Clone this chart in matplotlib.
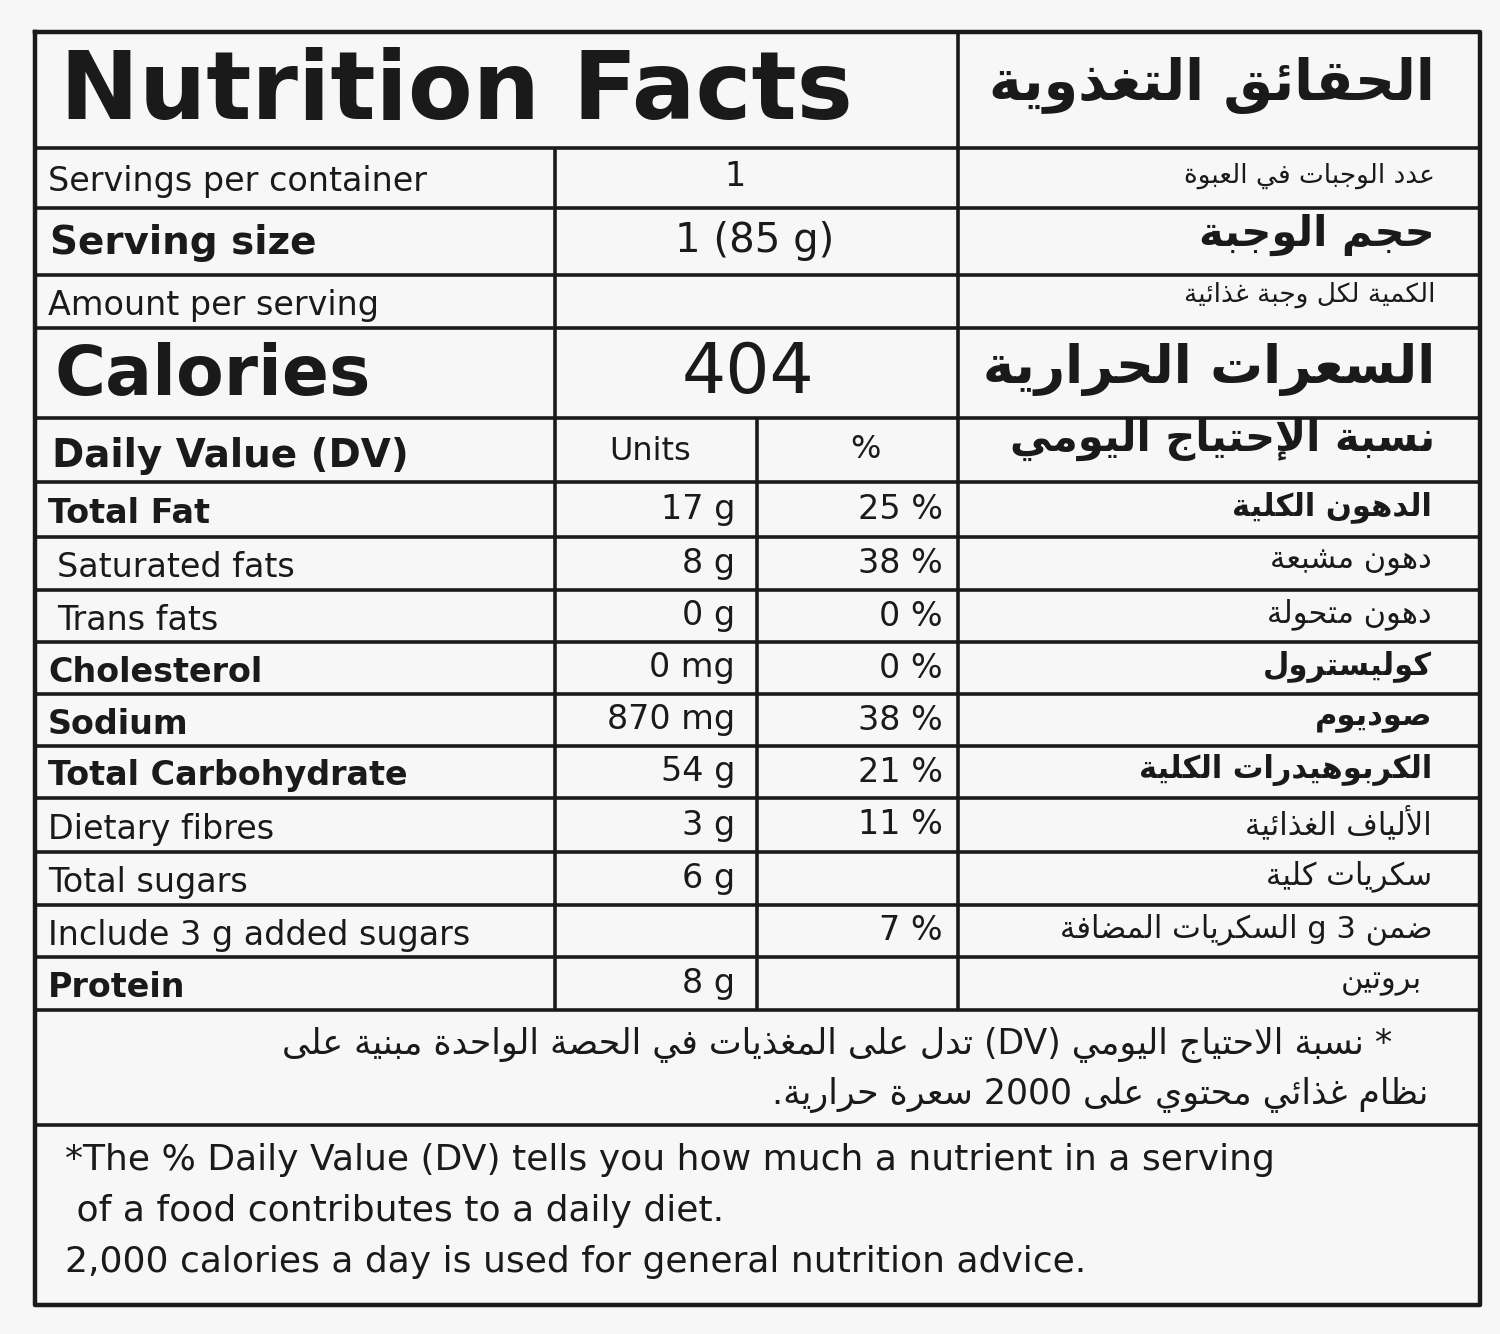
import matplotlib
matplotlib.use("Agg")
import matplotlib.pyplot as plt
import re

# ---------------- data ----------------
title_en = "Nutrition Facts"
title_ar = "الحقائق التغذوية"
servings_per_container = "1"
serving_size = "1 (85 g)"
calories = "404"
nutrients = ["Total Fat", "Saturated fats", "Trans fats", "Cholesterol", "Sodium",
             "Total Carbohydrate", "Dietary fibres", "Total sugars",
             "Include 3 g added sugars", "Protein"]
nutrient_bold = [True, False, False, True, True, True, False, False, False, True]
nutrient_indent = [False, True, True, False, False, False, False, False, False, False]
units = ["17 g", "8 g", "0 g", "0 mg", "870 mg", "54 g", "3 g", "6 g", "", "8 g"]
percents = ["25 %", "38 %", "0 %", "0 %", "38 %", "21 %", "11 %", "", "7 %", ""]
nutrients_ar = ["الدهون الكلية", "دهون مشبعة", "دهون متحولة", "كوليسترول", "صوديوم",
                "الكربوهيدرات الكلية", "الألياف الغذائية", "سكريات كلية",
                "ضمن 3 g السكريات المضافة", "بروتين"]
header_ar = ["عدد الوجبات في العبوة", "حجم الوجبة", "الكمية لكل وجبة غذائية",
             "السعرات الحرارية", "نسبة الإحتياج اليومي"]
foot_ar = ["* نسبة الاحتياج اليومي (DV) تدل على المغذيات في الحصة الواحدة مبنية على",
           "نظام غذائي محتوي على 2000 سعرة حرارية."]
foot_en = ["*The % Daily Value (DV) tells you how much a nutrient in a serving",
           " of a food contributes to a daily diet.",
           "2,000 calories a day is used for general nutrition advice."]

# ---------------- minimal Arabic shaping ----------------
F = {  # iso, fin, ini, med
 'ء':(0xFE80,None,None,None),'آ':(0xFE81,0xFE82,None,None),'أ':(0xFE83,0xFE84,None,None),
 'ؤ':(0xFE85,0xFE86,None,None),'إ':(0xFE87,0xFE88,None,None),'ئ':(0xFE89,0xFE8A,0xFE8B,0xFE8C),
 'ا':(0xFE8D,0xFE8E,None,None),'ب':(0xFE8F,0xFE90,0xFE91,0xFE92),'ة':(0xFE93,0xFE94,None,None),
 'ت':(0xFE95,0xFE96,0xFE97,0xFE98),'ث':(0xFE99,0xFE9A,0xFE9B,0xFE9C),'ج':(0xFE9D,0xFE9E,0xFE9F,0xFEA0),
 'ح':(0xFEA1,0xFEA2,0xFEA3,0xFEA4),'خ':(0xFEA5,0xFEA6,0xFEA7,0xFEA8),'د':(0xFEA9,0xFEAA,None,None),
 'ذ':(0xFEAB,0xFEAC,None,None),'ر':(0xFEAD,0xFEAE,None,None),'ز':(0xFEAF,0xFEB0,None,None),
 'س':(0xFEB1,0xFEB2,0xFEB3,0xFEB4),'ش':(0xFEB5,0xFEB6,0xFEB7,0xFEB8),'ص':(0xFEB9,0xFEBA,0xFEBB,0xFEBC),
 'ض':(0xFEBD,0xFEBE,0xFEBF,0xFEC0),'ط':(0xFEC1,0xFEC2,0xFEC3,0xFEC4),'ظ':(0xFEC5,0xFEC6,0xFEC7,0xFEC8),
 'ع':(0xFEC9,0xFECA,0xFECB,0xFECC),'غ':(0xFECD,0xFECE,0xFECF,0xFED0),'ف':(0xFED1,0xFED2,0xFED3,0xFED4),
 'ق':(0xFED5,0xFED6,0xFED7,0xFED8),'ك':(0xFED9,0xFEDA,0xFEDB,0xFEDC),'ل':(0xFEDD,0xFEDE,0xFEDF,0xFEE0),
 'م':(0xFEE1,0xFEE2,0xFEE3,0xFEE4),'ن':(0xFEE5,0xFEE6,0xFEE7,0xFEE8),'ه':(0xFEE9,0xFEEA,0xFEEB,0xFEEC),
 'و':(0xFEED,0xFEEE,None,None),'ى':(0xFEEF,0xFEF0,None,None),'ي':(0xFEF1,0xFEF2,0xFEF3,0xFEF4),
}
LA = {'ا':(0xFEFB,0xFEFC),'أ':(0xFEF7,0xFEF8),'إ':(0xFEF9,0xFEFA),'آ':(0xFEF5,0xFEF6)}

def dual(c):
    return c in F and F[c][2] is not None

def joins(c):
    return c in F and F[c][1] is not None

def shape(s):
    out = []
    i = 0
    n = len(s)
    while i < n:
        c = s[i]
        if c not in F:
            out.append(c); i += 1; continue
        prev = s[i-1] if i > 0 else ''
        cp = dual(prev)
        if c == 'ل' and i+1 < n and s[i+1] in LA:
            iso, fin = LA[s[i+1]]
            out.append(chr(fin if cp else iso)); i += 2; continue
        nxt = s[i+1] if i+1 < n else ''
        cn = dual(c) and joins(nxt)
        f = F[c]
        if cp and cn: code = f[3]
        elif cp: code = f[1] or f[0]
        elif cn: code = f[2]
        else: code = f[0]
        out.append(chr(code)); i += 1
    return ''.join(out)

def ar(s):
    v = shape(s)[::-1]
    v = re.sub(r'[A-Za-z0-9,.]*[A-Za-z0-9]', lambda m: m.group(0)[::-1], v)
    v = v.translate(str.maketrans('()', ')('))
    return v

# ---------------- figure ----------------
fig = plt.figure(figsize=(15, 13.34), dpi=100)
ax = fig.add_axes([0, 0, 1, 1])
ax.set_xlim(0, 1500)
ax.set_ylim(1334, 0)
ax.axis('off')
fig.patch.set_facecolor('#f7f7f7')

K = '#1a1a1a'
LW = 2.6
L, R, T, B = 35, 1480, 32, 1305
X1, X2, X3 = 555, 757, 958

def h(y, x0=L, x1=R, lw=LW):
    ax.plot([x0, x1], [y, y], color=K, lw=lw, solid_capstyle='butt')

def v(x, y0, y1, lw=LW):
    ax.plot([x, x], [y0, y1], color=K, lw=lw, solid_capstyle='butt')

ax.plot([L, R, R, L, L], [T, T, B, B, T], color=K, lw=3.2)
row_lines = [148, 208, 275, 328, 418, 482, 537, 590, 642, 694, 746, 798, 852, 905, 957, 1010]
for y in row_lines:
    h(y)
h(1125)
v(X3, T, 1010)
v(X1, 148, 1010)
v(X2, 418, 1010)

def t(x, y, s, size, ha='left', bold=False):
    ax.text(x, y, s, fontsize=size, ha=ha, va='center', color=K,
            fontweight='bold' if bold else 'normal', family=['DejaVu Sans'])

t(60, 93, title_en, 68, bold=True)
t(1435, 86, ar(title_ar), 40, ha='right', bold=True)

t(48, 181, "Servings per container", 24)
t(735, 176, servings_per_container, 24, ha='center')
t(50, 243, "Serving size", 28, bold=True)
t(755, 241, serving_size, 29, ha='center')
t(48, 305, "Amount per serving", 24)
t(55, 376, "Calories", 50, bold=True)
t(748, 374, calories, 50, ha='center')
t(52, 456, "Daily Value (DV)", 28, bold=True)
t(650, 451, "Units", 23, ha='center')
t(865, 449, "%", 23, ha='center')

hy = [176, 235, 295, 370, 440]
hs = [19, 30, 19, 38, 30]
hb = [False, True, False, True, True]
for s, y, sz, b in zip(header_ar, hy, hs, hb):
    t(1435, y, ar(s), sz, ha='right', bold=b)

for i, name in enumerate(nutrients):
    y0, y1 = row_lines[5 + i], row_lines[6 + i]
    yc = (y0 + y1) / 2 + 4
    t(57 if nutrient_indent[i] else 48, yc, name, 24, bold=nutrient_bold[i])
    t(735, yc - 4, units[i], 24, ha='right')
    t(943, yc - 4, percents[i], 24, ha='right')
    t(1432 if i < 9 else 1422, yc - 6, ar(nutrients_ar[i]), 22, ha='right', bold=(i in (0, 3, 4, 5)))

t(1392, 1045, ar(foot_ar[0]), 25, ha='right')
t(1428, 1095, ar(foot_ar[1]), 25, ha='right')
for i, s in enumerate(foot_en):
    t(65, 1160 + 51 * i, s, 26)

fig.savefig('out.png', dpi=100, facecolor=fig.get_facecolor())
